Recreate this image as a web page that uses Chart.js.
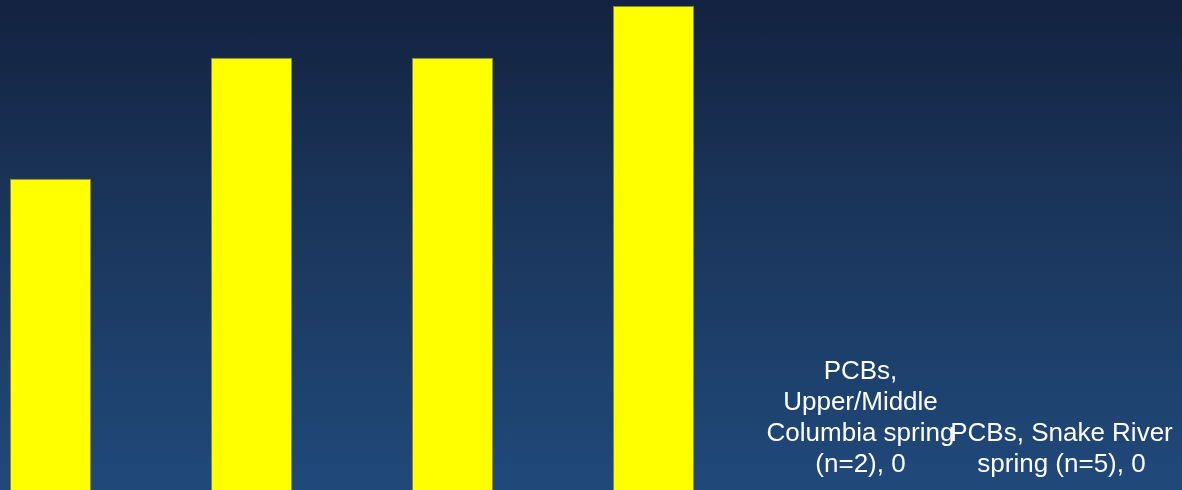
<!DOCTYPE html>
<html>
<head>
<meta charset="utf-8">
<script src="https://cdn.jsdelivr.net/npm/chart.js@4.4.1/dist/chart.umd.min.js"></script>
<style>
    html, body {
        margin: 0;
        padding: 0;
        width: 1182px;
        height: 490px;
        overflow: hidden;
        background: linear-gradient(to bottom, #132240 0%, #1a3459 40%, #20497a 100%);
    }
    #wrap {
        position: absolute;
        left: -50px;
        top: 0;
        width: 1232px;
        height: 490px;
    }
</style>
</head>
<body>
<div id="wrap"><canvas id="pcbChart" width="1232" height="490"></canvas></div>
<script>
const categories = [
    '',
    '',
    '',
    '',
    'PCBs, Upper/Middle Columbia spring (n=2)',
    'PCBs, Snake River spring (n=5)',
];
const values = [63.5, 88.2, 88.2, 98.8, 0, 0];
// only these bars get a "category, value" label in view
const labelled = [false, false, false, false, true, true];
const yMin = 0;
const yMax = 100;

/**
 * Splits a label into lines that fit inside maxWidth
 */
function wrapText(ctx, text, maxWidth) {
    const words = text.split(' ');
    const lines = [];
    let line = '';
    words.forEach((w) => {
        const test = line ? line + ' ' + w : w;
        if (line && ctx.measureText(test).width > maxWidth) {
            lines.push(line);
            line = w;
        } else {
            line = test;
        }
    });
    if (line) lines.push(line);
    return lines;
}

const barLabels = {
    id: 'barLabels',
    afterDatasetsDraw(chart) {
        const ctx = chart.ctx;
        const meta = chart.getDatasetMeta(0);
        ctx.save();
        ctx.font = '26px "Liberation Sans", Arial, sans-serif';
        ctx.fillStyle = '#ffffff';
        ctx.textAlign = 'center';
        ctx.textBaseline = 'alphabetic';
        meta.data.forEach((bar, i) => {
            if (!labelled[i]) return;
            const lines = wrapText(ctx, categories[i] + ', ' + values[i], 230);
            const lineHeight = 31;
            let y = bar.y - 18 - (lines.length - 1) * lineHeight;
            lines.forEach((l) => {
                ctx.fillText(l, bar.x + 6, y);
                y += lineHeight;
            });
        });
        ctx.restore();
    },
};

new Chart('pcbChart', {
    type: 'bar',
    data: {
        labels: categories,
        datasets: [
            {
                data: values,
                backgroundColor: '#ffff00',
                borderColor: '#8a8a30',
                borderWidth: 1,
                barPercentage: 0.403,
                categoryPercentage: 1,
            },
        ],
    },
    options: {
        responsive: false,
        animation: false,
        layout: {
            padding: { left: 0, right: 26, top: 0, bottom: 0 },
        },
        plugins: {
            legend: { display: false },
            tooltip: { enabled: false },
        },
        scales: {
            x: { display: false },
            y: { display: false, min: yMin, max: yMax },
        },
    },
    plugins: [barLabels],
});
</script>
</body>
</html>
